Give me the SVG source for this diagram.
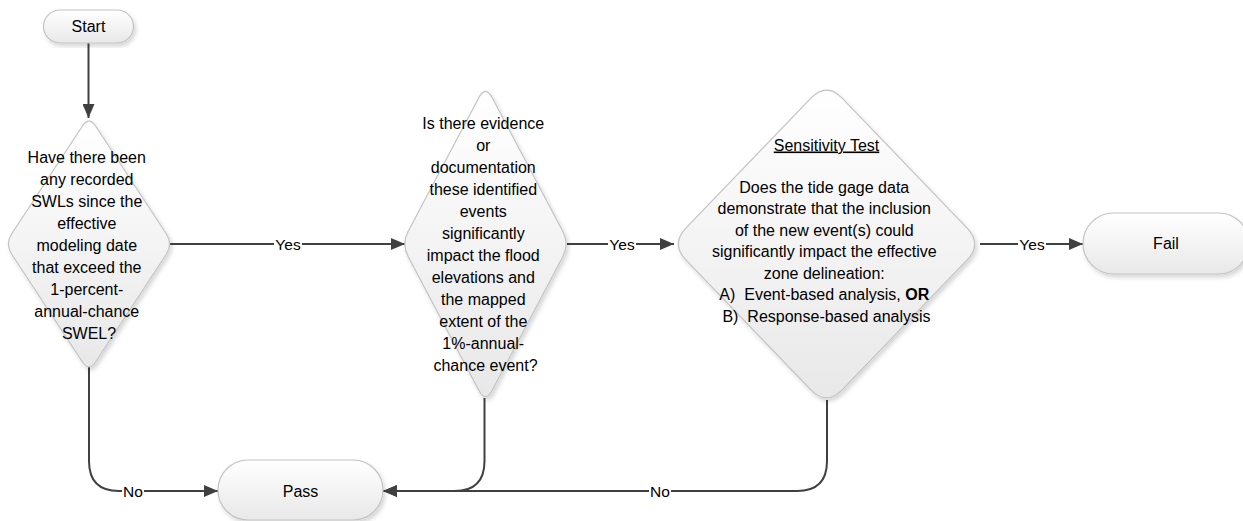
<svg xmlns="http://www.w3.org/2000/svg" width="1243" height="521" viewBox="0 0 1243 521">
  <defs>
    <linearGradient id="shapeFill" x1="0" y1="0" x2="0" y2="1">
      <stop offset="0" stop-color="#ffffff"/>
      <stop offset="1" stop-color="#e8e8e8"/>
    </linearGradient>
    <filter id="softShadow" x="-10%" y="-10%" width="125%" height="125%">
      <feDropShadow dx="2" dy="3" stdDeviation="2.2" flood-color="#000000" flood-opacity="0.16"/>
    </filter>
    <marker id="arrow" markerUnits="userSpaceOnUse" markerWidth="14" markerHeight="12" refX="14" refY="6" orient="auto">
      <path d="M0,0 L14,6 L0,12 Z" fill="#404040"/>
    </marker>
    <style>
      .shape { fill: url(#shapeFill); stroke: #c3c3c3; stroke-width: 1.2; filter: url(#softShadow); }
      .txt { font-family: "Liberation Sans", Arial, sans-serif; font-size: 16px; fill: #000000; text-anchor: middle; }
      .edge { fill: none; stroke: #404040; stroke-width: 2; }
      .lbl { font-family: "Liberation Sans", Arial, sans-serif; font-size: 15.5px; fill: #000000; text-anchor: middle; }
      .lblbg { fill: #ffffff; }
    </style>
  </defs>

  <rect x="0" y="0" width="1243" height="521" fill="#ffffff"/>

  <!-- connectors -->
  <g id="connectors">
    <path class="edge" d="M88.5,43 L88.5,118" marker-end="url(#arrow)"/>

    <path class="edge" d="M170,244 L405,244" marker-end="url(#arrow)"/>
    <rect class="lblbg" x="274" y="234" width="28" height="20"/>
    <text class="lbl" x="288" y="249.5">Yes</text>

    <path class="edge" d="M567,244 L674,244" marker-end="url(#arrow)"/>
    <rect class="lblbg" x="608" y="234" width="28" height="20"/>
    <text class="lbl" x="622" y="249.5">Yes</text>

    <path class="edge" d="M980,244 L1083,244" marker-end="url(#arrow)"/>
    <rect class="lblbg" x="1018" y="234" width="28" height="20"/>
    <text class="lbl" x="1032" y="249.5">Yes</text>

    <path class="edge" d="M89,366 L89,461 Q89,491 119,491 L218,491" marker-end="url(#arrow)"/>
    <rect class="lblbg" x="122" y="481" width="22" height="20"/>
    <text class="lbl" x="133" y="496.5">No</text>

    <path class="edge" d="M484.5,398 L484.5,461 Q484.5,491 454.5,491 L383,491" marker-end="url(#arrow)"/>

    <path class="edge" d="M827,400 L827,461 Q827,491 797,491 L383,491" marker-end="url(#arrow)"/>
    <rect class="lblbg" x="649" y="481" width="22" height="20"/>
    <text class="lbl" x="660" y="496.5">No</text>
  </g>

  <!-- Start terminator -->
  <g id="start">
    <rect class="shape" x="43.5" y="10" width="90" height="33" rx="16.5" ry="16.5"/>
    <text class="txt" x="88.5" y="32">Start</text>
  </g>

  <!-- Decision: recorded SWLs -->
  <g id="decision-swl">
    <path class="shape" d="M95.72,126.24 L166.28,233.76 Q173,244 166.28,254.24 L95.72,361.76 Q89,372 82.28,361.76 L11.72,254.24 Q5,244 11.72,233.76 L82.28,126.24 Q89,116 95.72,126.24 Z"/>
    <text class="txt">
      <tspan x="89" y="162.5">Have there been</tspan>
      <tspan x="89" y="184.5">any recorded</tspan>
      <tspan x="89" y="206.5">SWLs since the</tspan>
      <tspan x="89" y="228.5">effective</tspan>
      <tspan x="89" y="250.5">modeling date</tspan>
      <tspan x="89" y="272.5">that exceed the</tspan>
      <tspan x="89" y="294.5">1-percent-</tspan>
      <tspan x="89" y="316.5">annual-chance</tspan>
      <tspan x="89" y="338.5">SWEL?</tspan>
    </text>
  </g>

  <!-- Decision: evidence of impact -->
  <g id="decision-evidence">
    <path class="shape" d="M492.22,97.72 L562.78,231.28 Q569.5,244 562.78,256.72 L492.22,390.28 Q485.5,403 478.78,390.28 L408.22,256.72 Q401.5,244 408.22,231.28 L478.78,97.72 Q485.5,85 492.22,97.72 Z"/>
    <text class="txt">
      <tspan x="485.5" y="128.5">Is there evidence</tspan>
      <tspan x="485.5" y="150.5">or</tspan>
      <tspan x="485.5" y="172.5">documentation</tspan>
      <tspan x="485.5" y="194.5">these identified</tspan>
      <tspan x="485.5" y="216.5">events</tspan>
      <tspan x="485.5" y="238.5">significantly</tspan>
      <tspan x="485.5" y="260.5">impact the flood</tspan>
      <tspan x="485.5" y="282.5">elevations and</tspan>
      <tspan x="485.5" y="304.5">the mapped</tspan>
      <tspan x="485.5" y="326.5">extent of the</tspan>
      <tspan x="485.5" y="348.5">1%-annual-</tspan>
      <tspan x="485.5" y="370.5">chance event?</tspan>
    </text>
  </g>

  <!-- Decision: sensitivity test -->
  <g id="decision-sensitivity">
    <path class="shape" d="M842.1,98.2 L966.9,227.8 Q982.5,244 966.9,260.2 L842.1,389.8 Q826.5,406 810.9,389.8 L686.1,260.2 Q670.5,244 686.1,227.8 L810.9,98.2 Q826.5,82 842.1,98.2 Z"/>
    <text class="txt" x="826.5" y="150.5" text-decoration="underline">Sensitivity Test</text>
    <text class="txt">
      <tspan x="826.5" y="192.5">Does the tide gage data</tspan>
      <tspan x="826.5" y="214">demonstrate that the inclusion</tspan>
      <tspan x="826.5" y="235.5">of the new event(s) could</tspan>
      <tspan x="826.5" y="257">significantly impact the effective</tspan>
      <tspan x="826.5" y="278.5">zone delineation:</tspan>
      <tspan x="826.5" y="300">A)&#160; Event-based analysis, <tspan font-weight="bold">OR</tspan></tspan>
      <tspan x="826.5" y="321.5">B)&#160; Response-based analysis</tspan>
    </text>
  </g>

  <!-- Fail terminator -->
  <g id="fail">
    <rect class="shape" x="1083" y="213" width="166" height="61" rx="30.5" ry="30.5"/>
    <text class="txt" x="1166" y="249">Fail</text>
  </g>

  <!-- Pass terminator -->
  <g id="pass">
    <rect class="shape" x="218" y="460" width="165" height="60" rx="30" ry="30"/>
    <text class="txt" x="300.5" y="496.5">Pass</text>
  </g>
</svg>
